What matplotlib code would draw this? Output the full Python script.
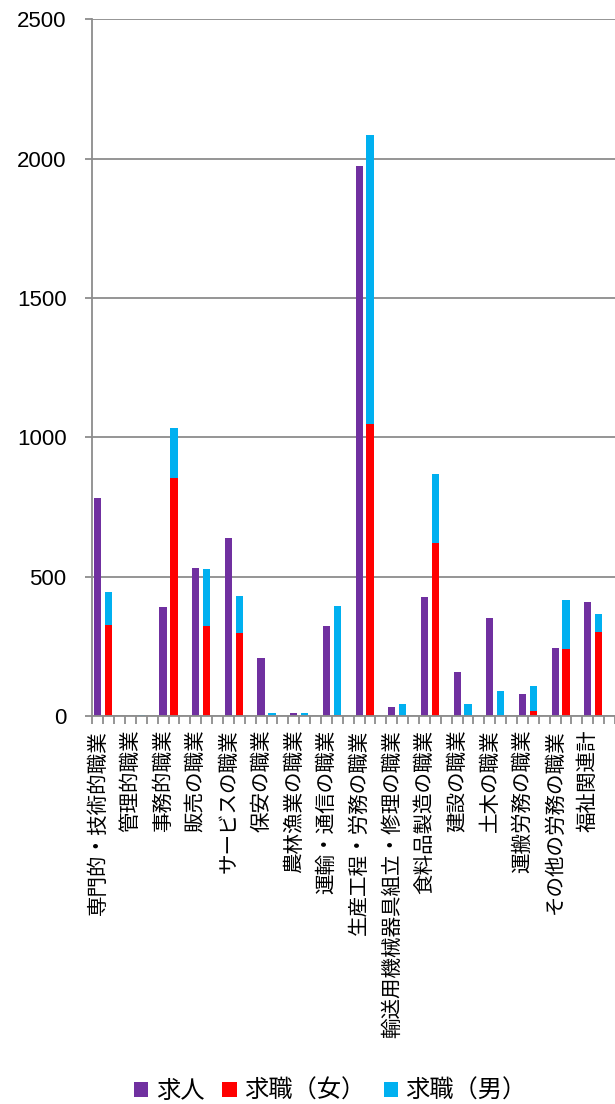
import numpy as np
import matplotlib.pyplot as plt
from matplotlib.patches import Patch

plt.rcParams['font.family'] = ['Noto Sans CJK JP', 'DejaVu Sans']

categories = ["専門的・技術的職業", "管理的職業", "事務的職業", "販売の職業",
              "サービスの職業", "保安の職業", "農林漁業の職業", "運輸・通信の職業",
              "生産工程・労務の職業", "輸送用機械器具組立・修理の職業", "食料品製造の職業",
              "建設の職業", "土木の職業", "運搬労務の職業", "その他の労務の職業", "福祉関連計"]
kyujin = [781, 0, 392, 530, 640, 208, 11, 323, 1973, 34, 427, 159, 353, 80, 244, 409]
kyushoku_f = [327, 0, 855, 324, 297, 0, 0, 5, 1047, 0, 622, 0, 0, 17, 239, 303]
kyushoku_m = [117, 5, 179, 202, 135, 11, 11, 390, 1037, 44, 248, 42, 91, 91, 177, 64]
series_names = ["求人", "求職（女）", "求職（男）"]
colors = ["#7030A0", "#FF0000", "#00B0F0"]

W, H = 615, 1104
fig = plt.figure(figsize=(W / 100, H / 100), dpi=100)
x0, y0, y1 = 92.3, 716, 19.4
ax = fig.add_axes([x0 / W, 1 - y0 / H, (W - x0) / W, (y0 - y1) / H])

# three slots per occupation: 求人 | 求職 stacked | gap
n = len(categories)
pos = np.arange(n) * 3
bw = 0.66
ax.bar(pos, kyujin, width=bw, color=colors[0], zorder=3)
ax.bar(pos + 1, kyushoku_f, width=bw, color=colors[1], zorder=3)
ax.bar(pos + 1, kyushoku_m, width=bw, bottom=kyushoku_f, color=colors[2], zorder=3)

slot_px = 33.4 / 3
ax.set_xlim(-0.5, -0.5 + (W - x0) / slot_px)
ax.set_ylim(0, 2500)
ax.set_yticks(np.arange(0, 2501, 500))
ax.grid(axis='y', color='#8c8c8c', linewidth=1.3, zorder=0)
ax.set_axisbelow(True)

for s in ['top', 'right']:
    ax.spines[s].set_visible(False)
for s in ['left', 'bottom']:
    ax.spines[s].set_color('#8c8c8c')
    ax.spines[s].set_linewidth(1.3)
    ax.spines[s].set_zorder(4)

ax.tick_params(axis='y', length=5, width=1.3, color='#8c8c8c', pad=13.5,
               labelsize=16, labelfontfamily='Liberation Sans')

# tick marks on slot boundaries, labels under the first slot of each group
ax.set_xticks(np.arange(-0.5, 3 * n, 1.0))
ax.tick_params(axis='x', which='major', length=5.8, width=1.3, color='#8c8c8c',
               labelbottom=False)

ax.set_xticks(pos, categories, minor=True)
ax.tick_params(axis='x', which='minor', length=0, pad=10, labelsize=14.8,
               labelrotation=90)
for t in ax.get_xticklabels(minor=True):
    t.set_horizontalalignment('center')
    t.set_verticalalignment('top')

handles = [Patch(facecolor=c) for c in colors]
fig.legend(handles, series_names, loc='center', bbox_to_anchor=(0.537, 1 - 1091 / H),
           ncol=3, frameon=False, fontsize=17.5, handlelength=0.6, handleheight=0.6,
           handletextpad=0.3, columnspacing=0.75, borderpad=0.1)

fig.savefig("out.png", dpi=100)
